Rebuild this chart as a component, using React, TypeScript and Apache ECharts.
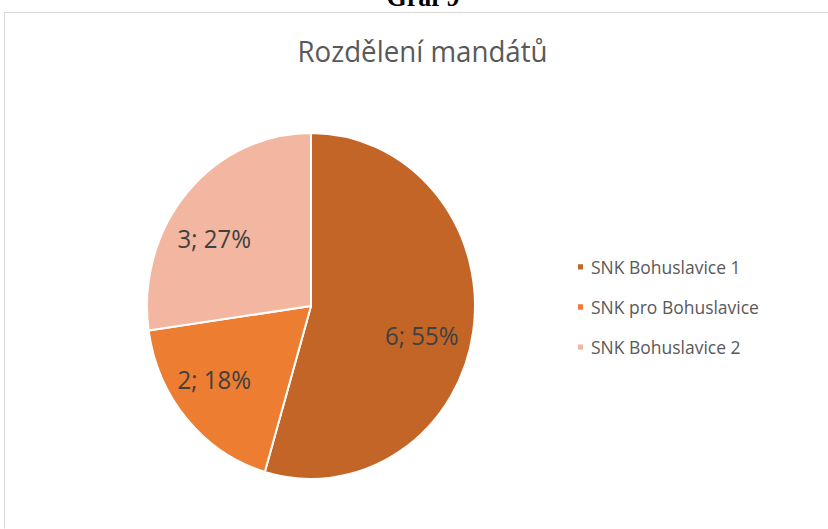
import React, { useEffect, useRef } from "react";
import * as echarts from "echarts";

const chartTitle = "Rozdělení mandátů";
const headerText = "Graf 9";
const categories = ["SNK Bohuslavice 1", "SNK pro Bohuslavice", "SNK Bohuslavice 2"];
const seats = [6, 2, 3];
const colors = ["#C46528", "#ED7D31", "#F3B7A1"];

const STRETCH = 1.055;
const W = 828;
const H = 529 / STRETCH;

export default function App() {
  const ref = useRef<HTMLDivElement>(null);
  useEffect(() => {
    if (!ref.current) return;
    const chart = echarts.init(ref.current, null, { renderer: "svg" });
    const data = categories.map((name, i) => ({
      name,
      value: seats[i],
      itemStyle: { color: colors[i] },
    }));
    // small nudges of the data labels, as placed by the original chart tool
    const nudge = (i: number) => (i === 0 ? [-8, 11] : i === 1 ? [-6, -9.5] : [-6, 14]);
    const cx = 311;
    const cy = 290;
    const r = 164;
    chart.setOption({
      animation: false,
      backgroundColor: "#ffffff",
      graphic: [
        {
          type: "rect",
          shape: { x: 4.5, y: 12.5 / STRETCH, width: 1000, height: 1000 },
          style: { fill: "none", stroke: "#D9D9D9", lineWidth: 1 },
          silent: true,
        },
        {
          type: "text",
          x: 423,
          y: -3,
          style: {
            text: headerText,
            font: 'bold 26px "Liberation Serif"',
            fill: "#000000",
            align: "center",
            verticalAlign: "middle",
          },
        },
        {
          type: "text",
          x: 422.5,
          y: 48,
          style: {
            text: chartTitle,
            font: '27.7px "Open Sans"',
            fill: "#595959",
            align: "center",
            verticalAlign: "middle",
          },
        },
      ],
      legend: {
        orient: "vertical",
        left: 571,
        top: 239,
        icon: "rect",
        itemWidth: 7,
        itemHeight: 7,
        itemGap: 20,
        data: categories,
        textStyle: {
          fontFamily: "Open Sans",
          fontSize: 17.5,
          lineHeight: 18,
          color: "#595959",
          padding: [0, 0, 0, 2],
        },
      },
      series: [
        {
          type: "pie",
          center: [cx, cy],
          radius: [0, r],
          startAngle: 90,
          clockwise: true,
          silent: true,
          data,
          label: { show: false },
          labelLine: { show: false },
          itemStyle: { borderColor: "#ffffff", borderWidth: 2 },
        },
        {
          type: "pie",
          center: [cx, cy],
          radius: [70, r],
          startAngle: 90,
          clockwise: true,
          silent: true,
          percentPrecision: 0,
          data: categories.map((name, i) => ({
            name,
            value: seats[i],
            label: { offset: nudge(i) },
          })),
          itemStyle: { color: "transparent", borderWidth: 0 },
          label: {
            show: true,
            position: "inside",
            formatter: "{c}; {d}%",
            fontFamily: "Open Sans",
            fontSize: 24,
            color: "#404040",
          },
          labelLine: { show: false },
        },
      ],
    });
    return () => chart.dispose();
  }, []);
  return (
    <div
      style={{
        position: "fixed",
        left: 0,
        top: 0,
        width: W,
        height: H,
        transform: `scaleY(${STRETCH})`,
        transformOrigin: "top left",
        background: "#fff",
      }}
    >
      <div ref={ref} style={{ width: W, height: H }} />
    </div>
  );
}
